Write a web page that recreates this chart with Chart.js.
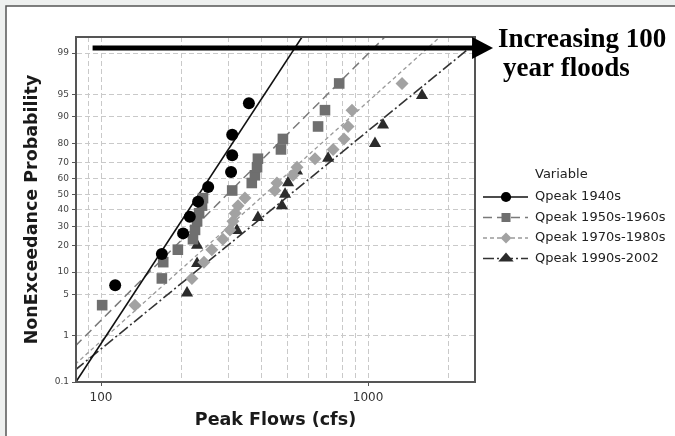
<!DOCTYPE html>
<html lang="en">
<head>
    <meta charset="UTF-8">
    <title>Peak Flows Probability Plot</title>
    <script src="https://cdn.jsdelivr.net/npm/chart.js"></script>
    <style>
        body { margin: 0; background: #eef0ef; }
        #wrap { position: absolute; left: 0; top: 0; width: 675px; height: 436px; }
    </style>
</head>
<body>

<div id="wrap">
    <canvas id="probChart" width="675" height="436"></canvas>
</div>

<script>
    // Data (flows in cfs, probabilities in %)
    const seriesNames = ["Qpeak 1940s", "Qpeak 1950s-1960s", "Qpeak 1970s-1980s", "Qpeak 1990s-2002"];

    const flows1940s = [113, 169, 203, 215, 231, 252, 307, 310, 310, 358];
    const probs1940s = [6.7, 16.3, 26.0, 35.6, 45.2, 54.8, 64.4, 74.0, 83.7, 93.3];

    const flows1950s = [101, 169, 171, 194, 221, 225, 229, 233, 239, 241, 310, 367, 377, 384, 387, 472, 480, 650, 690, 780];
    const probs1950s = [3.4, 8.3, 13.2, 18.1, 23.0, 27.9, 32.8, 37.7, 42.6, 47.5, 52.5, 57.4, 62.3, 67.2, 72.1, 77.0, 81.9, 86.8, 91.7, 96.6];

    const flows1970s = [134, 219, 243, 260, 286, 304, 312, 318, 326, 346, 448, 456, 524, 542, 633, 740, 813, 842, 871, 1341];
    const probs1970s = [3.4, 8.3, 13.2, 18.1, 23.0, 27.9, 32.8, 37.7, 42.6, 47.5, 52.5, 57.4, 62.3, 67.2, 72.1, 77.0, 81.9, 86.8, 91.7, 96.6];

    const flows1990s = [210, 229, 229, 323, 387, 476, 489, 502, 542, 709, 1062, 1138, 1593];
    const probs1990s = [5.2, 12.7, 20.1, 27.6, 35.1, 42.5, 50.0, 57.5, 64.9, 72.4, 79.9, 87.3, 94.8];

    // Fitted lines (end points)
    const fitFlows1940s = [80, 600];
    const fitProbs1940s = [0.094, 99.71];
    const fitFlows1950s = [80, 1200];
    const fitProbs1950s = [0.62, 99.61];
    const fitFlows1970s = [80, 2000];
    const fitProbs1970s = [0.256, 99.668];
    const fitFlows1990s = [80, 2500];
    const fitProbs1990s = [0.19, 99.33];

    // Axes
    const probTicks = [0.1, 1, 5, 10, 20, 30, 40, 50, 60, 70, 80, 90, 95, 99];
    const probMin = 0.1;
    const probMax = 99.52;
    const flowMin = 80.6;
    const flowMax = 2516;
    const flowGrid = [90, 100, 200, 300, 400, 500, 600, 700, 800, 900, 1000, 2000];
    const flowLabels = [100, 1000];

    // Arrow annotation
    const arrowFrom = 93;
    const arrowTo = 2940;
    const arrowProb = 99.2;

    // Inverse normal CDF (Acklam)
    function probit(p) {
        const a = [-3.969683028665376e+01, 2.209460984245205e+02, -2.759285104469687e+02, 1.383577518672690e+02, -3.066479806614716e+01, 2.506628277459239e+00];
        const b = [-5.447609879822406e+01, 1.615858368580409e+02, -1.556989798598866e+02, 6.680131188771972e+01, -1.328068155288572e+01];
        const c = [-7.784894002430293e-03, -3.223964580411365e-01, -2.400758277161838e+00, -2.549732539343734e+00, 4.374664141464968e+00, 2.938163982698783e+00];
        const d = [7.784695709041462e-03, 3.224671290700398e-01, 2.445134137142996e+00, 3.754408661907416e+00];
        let plow = 0.02425, q, r;
        if (p < plow) {
            q = Math.sqrt(-2 * Math.log(p));
            return (((((c[0]*q+c[1])*q+c[2])*q+c[3])*q+c[4])*q+c[5]) / ((((d[0]*q+d[1])*q+d[2])*q+d[3])*q+1);
        }
        if (p > 1 - plow) {
            q = Math.sqrt(-2 * Math.log(1 - p));
            return -(((((c[0]*q+c[1])*q+c[2])*q+c[3])*q+c[4])*q+c[5]) / ((((d[0]*q+d[1])*q+d[2])*q+d[3])*q+1);
        }
        q = p - 0.5;
        r = q * q;
        return (((((a[0]*r+a[1])*r+a[2])*r+a[3])*r+a[4])*r+a[5])*q / (((((b[0]*r+b[1])*r+b[2])*r+b[3])*r+b[4])*r+1);
    }
    const z = pct => probit(pct / 100);

    function toPoints(flows, probs) {
        return flows.map((f, i) => ({ x: f, y: z(probs[i]) }));
    }

    const styles = [
        { color: "#000000", line: "#111111", dash: [], width: 1.6, marker: "circle", radius: 6 },
        { color: "#6f6f6f", line: "#7a7a7a", dash: [9, 5], width: 1.5, marker: "rect", radius: 7.5 },
        { color: "#a2a2a2", line: "#9a9a9a", dash: [4, 3], width: 1.3, marker: "rectRot", radius: 6.5 },
        { color: "#2b2b2b", line: "#333333", dash: [11, 3, 2, 3], width: 1.6, marker: "triangle", radius: 7 }
    ];

    const pointSets = [
        toPoints(flows1940s, probs1940s),
        toPoints(flows1950s, probs1950s),
        toPoints(flows1970s, probs1970s),
        toPoints(flows1990s, probs1990s)
    ];
    const fitSets = [
        toPoints(fitFlows1940s, fitProbs1940s),
        toPoints(fitFlows1950s, fitProbs1950s),
        toPoints(fitFlows1970s, fitProbs1970s),
        toPoints(fitFlows1990s, fitProbs1990s)
    ];

    let datasets = [];
    fitSets.forEach((pts, i) => {
        datasets.push({
            label: seriesNames[i] + " fit",
            data: pts,
            showLine: true,
            pointRadius: 0,
            borderColor: styles[i].line,
            borderWidth: styles[i].width,
            borderDash: styles[i].dash,
            order: 2
        });
    });
    pointSets.forEach((pts, i) => {
        datasets.push({
            label: seriesNames[i],
            data: pts,
            showLine: false,
            pointStyle: styles[i].marker,
            pointRadius: styles[i].radius,
            backgroundColor: styles[i].color,
            borderColor: styles[i].color,
            borderWidth: 0,
            order: 1
        });
    });

    // Draw a legend marker
    function drawMarker(ctx, kind, x, y, r, color) {
        ctx.fillStyle = color;
        ctx.beginPath();
        if (kind === "circle") {
            ctx.arc(x, y, r, 0, Math.PI * 2);
        } else if (kind === "rect") {
            let s = r * Math.SQRT1_2;
            ctx.rect(x - s, y - s, 2 * s, 2 * s);
        } else if (kind === "rectRot") {
            ctx.moveTo(x, y - r); ctx.lineTo(x + r, y); ctx.lineTo(x, y + r); ctx.lineTo(x - r, y);
        } else {
            let h = r * 1.5 * 0.866;
            ctx.moveTo(x, y - r); ctx.lineTo(x + h, y + r / 2); ctx.lineTo(x - h, y + r / 2);
        }
        ctx.closePath();
        ctx.fill();
    }

    // Background frame, plot box, arrow, legend
    const decorPlugin = {
        id: "decor",
        beforeDraw(chart) {
            let ctx = chart.ctx;
            ctx.save();
            ctx.fillStyle = "#eef0ef";
            ctx.fillRect(0, 0, chart.width, chart.height);
            ctx.fillStyle = "#ffffff";
            ctx.fillRect(6, 6, chart.width - 6, chart.height - 6);
            ctx.strokeStyle = "#555555";
            ctx.lineWidth = 1.5;
            ctx.beginPath();
            ctx.moveTo(6, chart.height);
            ctx.lineTo(6, 6);
            ctx.lineTo(chart.width, 6);
            ctx.stroke();
            ctx.restore();
        },
        afterDraw(chart) {
            let ctx = chart.ctx;
            let area = chart.chartArea;
            let xs = chart.scales.x, ys = chart.scales.y;
            ctx.save();

            // plot box
            ctx.strokeStyle = "#555555";
            ctx.lineWidth = 2;
            ctx.strokeRect(area.left, area.top, area.right - area.left, area.bottom - area.top);

            // arrow
            let ay = ys.getPixelForValue(z(arrowProb));
            let ax1 = xs.getPixelForValue(arrowFrom);
            let ax2 = xs.getPixelForValue(arrowTo);
            ctx.strokeStyle = "#000";
            ctx.lineWidth = 5;
            ctx.beginPath();
            ctx.moveTo(ax1, ay);
            ctx.lineTo(ax2 - 18, ay);
            ctx.stroke();
            ctx.fillStyle = "#000";
            ctx.beginPath();
            ctx.moveTo(ax2, ay);
            ctx.lineTo(ax2 - 21, ay - 11);
            ctx.lineTo(ax2 - 21, ay + 11);
            ctx.closePath();
            ctx.fill();

            ctx.font = "bold 27px 'Liberation Serif'";
            ctx.textAlign = "left";
            ctx.textBaseline = "alphabetic";
            ctx.fillText("Increasing 100", ax2 + 5, ay - 1);
            ctx.fillText("year floods", ax2 + 10, ay + 28);

            // legend
            let lx = 483, tx = 535, ly = 175;
            ctx.font = "13px 'DejaVu Sans'";
            ctx.textBaseline = "middle";
            ctx.fillStyle = "#222";
            ctx.fillText("Variable", tx, ly);
            styles.forEach((s, i) => {
                let y = ly + 22 + i * 20.5;
                ctx.strokeStyle = s.line;
                ctx.lineWidth = s.width;
                ctx.setLineDash(s.dash);
                ctx.beginPath();
                ctx.moveTo(lx, y);
                ctx.lineTo(lx + 45, y);
                ctx.stroke();
                ctx.setLineDash([]);
                drawMarker(ctx, s.marker, lx + 23, y, s.radius * 0.85, s.color);
                ctx.fillStyle = "#222";
                ctx.fillText(seriesNames[i], tx, y);
            });
            ctx.restore();
        }
    };

    new Chart(document.getElementById("probChart"), {
        type: "scatter",
        data: { datasets: datasets },
        options: {
            responsive: false,
            animation: false,
            layout: { padding: { left: 0, top: 37, right: 200, bottom: 0 } },
            plugins: {
                legend: { display: false },
                tooltip: { enabled: false }
            },
            scales: {
                x: {
                    type: "logarithmic",
                    min: flowMin,
                    max: flowMax,
                    afterBuildTicks: scale => {
                        scale.ticks = flowGrid.map(v => ({ value: v }));
                    },
                    afterFit: scale => { scale.height = 54; },
                    ticks: {
                        autoSkip: false,
                        maxRotation: 0,
                        padding: 5,
                        color: "#333",
                        font: { family: "DejaVu Sans", size: 12 },
                        callback: v => flowLabels.includes(v) ? String(v) : ""
                    },
                    grid: {
                        color: "#c9c9c9",
                        lineWidth: 1,
                        tickLength: 4,
                        tickColor: ctx => (ctx.tick && flowLabels.includes(ctx.tick.value)) ? "#555" : "rgba(0,0,0,0)"
                    },
                    border: { color: "#555", width: 2, dash: [5, 3] },
                    title: {
                        display: true,
                        text: "Peak Flows (cfs)",
                        color: "#1a1a1a",
                        font: { family: "DejaVu Sans", size: 17.5, weight: "bold" },
                        padding: { top: 0, bottom: 5.5 }
                    }
                },
                y: {
                    type: "linear",
                    min: z(probMin),
                    max: z(probMax),
                    afterBuildTicks: scale => {
                        scale.ticks = probTicks.map(p => ({ value: z(p) }));
                    },
                    afterFit: scale => { scale.width = 76; },
                    ticks: {
                        autoSkip: false,
                        padding: 3,
                        color: "#444",
                        font: { family: "DejaVu Sans", size: 9 },
                        callback: (v, i) => String(probTicks[i])
                    },
                    grid: {
                        color: "#c9c9c9",
                        lineWidth: 1,
                        tickLength: 4,
                        tickColor: "#555"
                    },
                    border: { color: "#555", width: 2, dash: [5, 3] },
                    title: {
                        display: true,
                        text: "NonExceedance Probability",
                        color: "#1a1a1a",
                        font: { family: "DejaVu Sans", size: 17.5, weight: "bold" },
                        padding: { top: 21.5, bottom: 0 }
                    }
                }
            }
        },
        plugins: [decorPlugin]
    });
</script>

</body>
</html>
